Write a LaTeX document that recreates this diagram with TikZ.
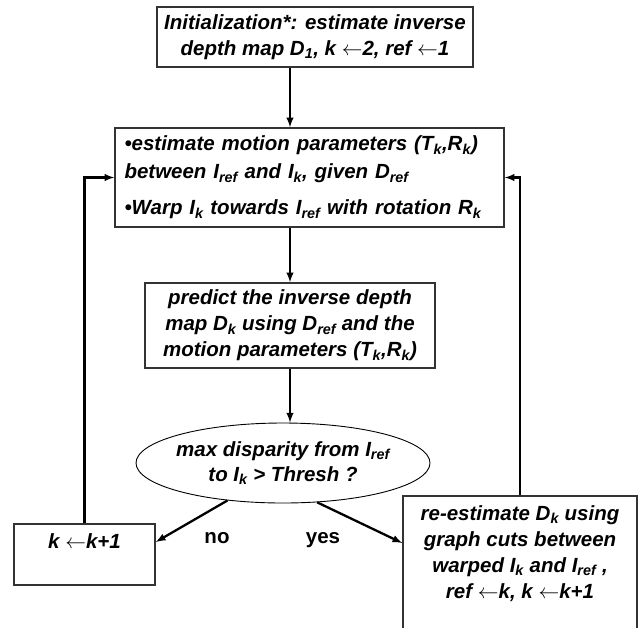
\documentclass[tikz,border=0pt]{standalone}
\usepackage{fontspec}
\setmainfont{Liberation Sans}
\usetikzlibrary{shapes.geometric,arrows,positioning,calc}

\tikzset{
	stepbox/.style={draw=black!80,line width=1.5pt,align=center,inner sep=0pt,
		font=\bfseries\itshape\fontsize{20.5}{26}\selectfont},
	decision/.style={ellipse,draw,line width=0.9pt,align=center,inner xsep=-40pt,inner ysep=-10pt,
		minimum width=294pt,minimum height=80pt,font=\bfseries\itshape\fontsize{20.5}{25}\selectfont},
	answer/.style={anchor=base,font=\bfseries\fontsize{20.5}{22}\selectfont},
	flow/.style={->,line width=2.3pt}
}

\begin{document}
\begin{tikzpicture}[>=latex,x=1pt,y=-1pt]
	\useasboundingbox (0,0) rectangle (639,627);
	\clip (0,0) rectangle (639,627);
	% boxes
	\node[stepbox,minimum width=316pt,minimum height=60pt] (init) at (315,37)
		{Initialization*: estimate inverse\\depth map D\textsubscript{1}, k $\leftarrow$2, ref $\leftarrow$1};
	\node[stepbox,align=left,text width=370pt,minimum width=389pt,minimum height=99pt] (est) at (309.5,177.5)
		{\textbullet estimate motion parameters (T\textsubscript{k},R\textsubscript{k})\\[2pt]
		between I\textsubscript{ref} and I\textsubscript{k}, given D\textsubscript{ref}\\[10pt]
		\textbullet Warp I\textsubscript{k} towards I\textsubscript{ref} with rotation R\textsubscript{k}};
	\node[stepbox,minimum width=290pt,minimum height=85pt] (pred) at (290,325.5)
		{predict the inverse depth\\map D\textsubscript{k} using D\textsubscript{ref} and the\\motion parameters (T\textsubscript{k},R\textsubscript{k})};
	\node[decision] (cond) at (283,463) {max disparity from I\textsubscript{ref}\\to I\textsubscript{k} > Thresh ?};
	\node[stepbox,minimum width=141pt,minimum height=61pt] (inc) at (84.5,554.5) {k $\leftarrow$k+1\\ \mbox{}};
	\node[stepbox,anchor=north,minimum width=234pt,inner ysep=10pt] (reest) at (520,495)
		{re-estimate D\textsubscript{k} using\\graph cuts between\\warped I\textsubscript{k} and I\textsubscript{ref} ,\\ref $\leftarrow$k, k $\leftarrow$k+1\\ \mbox{}\\ \mbox{}};
	\node[answer] (no) at (217,543) {no};
	\node[answer] (yes) at (323,543) {yes};
	% arrows
	\draw[flow] (init.south -| pred) -- (est.north -| pred);
	\draw[flow] (est.south -| pred) -- (pred.north);
	\draw[flow] (pred.south) -- (pred.south |- cond.north);
	\draw[flow] (cond.214) -- ($(inc.north east)!0.3!(inc.south east)$);
	\draw[flow] (cond.311) -- ($(reest.north west)+(0,48)$);
	\draw[flow] (inc.north) |- (est.west);
	\draw[flow] (reest.north) |- (est.east);
\end{tikzpicture}
\end{document}
